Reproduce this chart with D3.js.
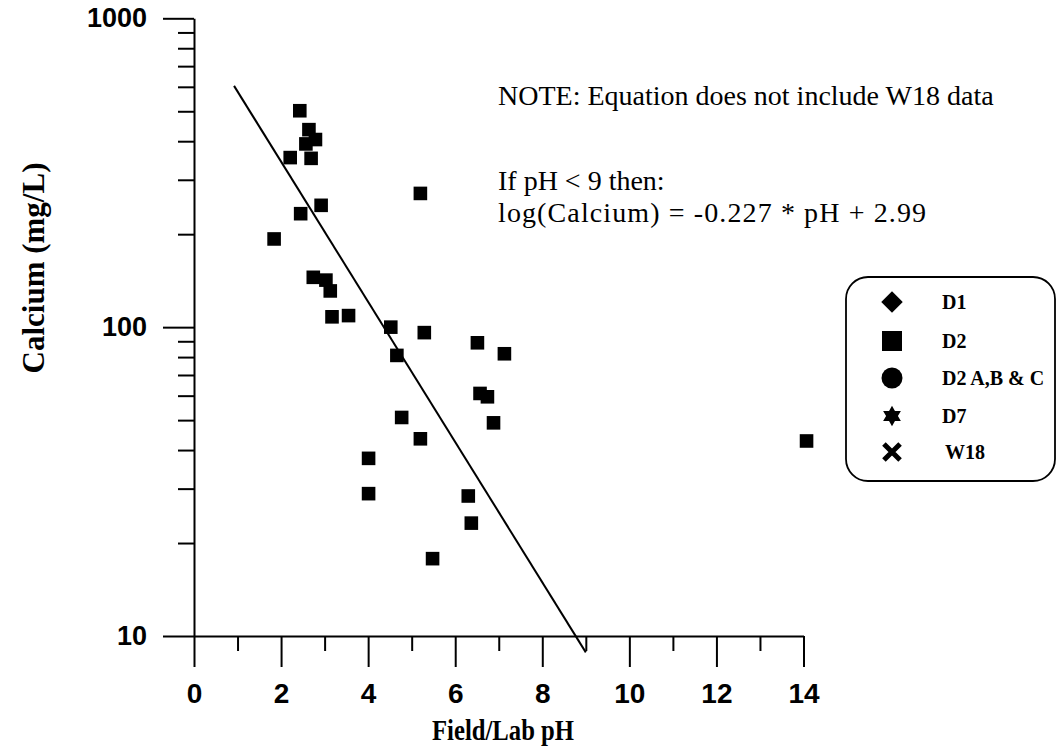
<!DOCTYPE html>
<html>
<head>
<meta charset="utf-8">
<script src="https://cdn.jsdelivr.net/npm/d3@7"></script>
<style>
  body { margin: 0; background: #fff; }
  svg { display: block; }
</style>
</head>
<body>
<svg id="chart" width="1059" height="753"></svg>
<script>
// Field/lab pH against calcium concentration (mg/L)
const phValues = [2.43, 2.64, 2.79, 2.57, 2.21, 2.69, 2.92, 2.45, 1.84, 2.74,
                  3.03, 3.13, 3.17, 3.55, 5.20, 4.52, 5.29, 6.51, 7.13, 4.66,
                  6.57, 6.74, 6.88, 4.77, 5.20, 4.01, 4.01, 6.30, 6.37, 5.48, 14.07];
const calciumValues = [502, 436, 405, 392, 354, 352, 248, 233, 193, 145,
                       142, 131, 108, 109, 271, 100, 96, 89, 82, 81,
                       61, 59.5, 49, 51, 43.5, 37.6, 28.9, 28.4, 23.2, 17.8, 42.8];

const xMajorTicks = [0, 2, 4, 6, 8, 10, 12, 14];
const xMinorTicks = [1, 3, 5, 7, 9, 11, 13];
const yMajorTicks = [10, 100, 1000];
const yMinorTicks = [20, 30, 40, 50, 60, 70, 80, 90, 200, 300, 400, 500, 600, 700, 800, 900];

const legendLabels = ["D1", "D2", "D2 A,B & C", "D7", "W18"];
const noteLines = ["NOTE: Equation does not include W18 data",
                   "If pH < 9 then:",
                   "log(Calcium) = -0.227 * pH + 2.99"];

// regression: log10(Ca) = slope * pH + intercept, valid for pH < 9
const fitSlope = -0.227;
const fitIntercept = 2.99;
const fitRange = [0.92, 9];

const svg = d3.select("#chart");
const sansBold = "'Liberation Sans', Arial, sans-serif";
const serif = "'Liberation Serif', 'Times New Roman', serif";

const x = d3.scaleLinear().domain([0, 14]).range([194, 803.5]);
const y = d3.scaleLog().domain([10, 1000]).range([636, 18.3]);

function styleAxis(g, fontSize) {
  g.selectAll("path.domain").attr("stroke", "#000").attr("stroke-width", 2);
  g.selectAll(".tick line").attr("stroke", "#000").attr("stroke-width", 2);
  g.selectAll(".tick text")
    .attr("fill", "#000")
    .style("font-family", sansBold)
    .style("font-weight", "bold")
    .style("font-size", fontSize + "px");
}

// y axis (log)
const yAxisG = svg.append("g").attr("transform", `translate(${x(0)},0)`)
  .call(d3.axisLeft(y).tickValues(yMajorTicks).tickSize(31).tickSizeOuter(0)
    .tickPadding(16).tickFormat(d3.format("d")));
styleAxis(yAxisG, 27);

const yMinorG = svg.append("g").attr("transform", `translate(${x(0)},0)`)
  .call(d3.axisLeft(y).tickValues(yMinorTicks).tickSize(16).tickFormat(""));
yMinorG.select("path.domain").remove();
styleAxis(yMinorG, 10);

// x axis
const xAxisG = svg.append("g").attr("transform", `translate(0,${y(10)})`)
  .call(d3.axisBottom(x).tickValues(xMajorTicks).tickSize(31).tickSizeOuter(0)
    .tickPadding(16).tickFormat(d3.format("d")));
styleAxis(xAxisG, 28);

const xMinorG = svg.append("g").attr("transform", `translate(0,${y(10)})`)
  .call(d3.axisBottom(x).tickValues(xMinorTicks).tickSize(15).tickFormat(""));
xMinorG.select("path.domain").remove();
styleAxis(xMinorG, 10);

// axis titles
svg.append("text")
  .attr("x", 503).attr("y", 740)
  .attr("text-anchor", "middle")
  .attr("textLength", 142).attr("lengthAdjust", "spacingAndGlyphs")
  .style("font-family", serif).style("font-weight", "bold").style("font-size", "29px")
  .text("Field/Lab pH");

svg.append("text")
  .attr("transform", "translate(44,268) rotate(-90)")
  .attr("text-anchor", "middle")
  .style("font-family", serif).style("font-weight", "bold").style("font-size", "31px")
  .text("Calcium (mg/L)");

// regression line
const fitLine = d3.line()
  .x(d => x(d))
  .y(d => y(Math.pow(10, fitSlope * d + fitIntercept)));
svg.append("path")
  .datum(fitRange)
  .attr("d", fitLine)
  .attr("fill", "none")
  .attr("stroke", "#000")
  .attr("stroke-width", 2);

// data points
const square = d3.symbol().type(d3.symbolSquare).size(185);
svg.append("g").selectAll("path")
  .data(phValues.map((p, i) => [p, calciumValues[i]]))
  .join("path")
  .attr("transform", d => `translate(${x(d[0])},${y(d[1])})`)
  .attr("d", square)
  .attr("fill", "#000");

// annotation text; the equation line is spread a little wider
const noteBaselines = [105, 190, 222];
const noteWidths = [null, null, 428];
svg.append("g").selectAll("text")
  .data(noteLines)
  .join("text")
  .attr("x", 498)
  .attr("y", (d, i) => noteBaselines[i])
  .attr("textLength", (d, i) => noteWidths[i])
  .attr("lengthAdjust", "spacing")
  .style("font-family", serif).style("font-size", "28px")
  .attr("fill", "#000")
  .text(d => d);

// legend
const hexagram = {
  draw(ctx, size) {
    const R = Math.sqrt(size) / 2, r = R / Math.sqrt(3);
    for (let k = 0; k < 12; k++) {
      const a = -Math.PI / 2 + k * Math.PI / 6;
      const rad = k % 2 === 0 ? R : r;
      const px = rad * Math.cos(a), py = rad * Math.sin(a);
      if (k === 0) ctx.moveTo(px, py); else ctx.lineTo(px, py);
    }
    ctx.closePath();
  }
};
const cross = {
  draw(ctx, size) {
    const h = Math.sqrt(size) / 2;
    ctx.moveTo(-h, -h); ctx.lineTo(h, h);
    ctx.moveTo(h, -h); ctx.lineTo(-h, h);
  }
};

const legendG = svg.append("g");
legendG.append("rect")
  .attr("x", 846).attr("y", 277).attr("width", 209).attr("height", 204)
  .attr("rx", 22).attr("ry", 22)
  .attr("fill", "none").attr("stroke", "#000").attr("stroke-width", 1.8);

const legendRows = [302, 341, 378, 416, 452];
const legendSymbols = [
  { type: d3.symbolSquare, size: 230, rotate: 45, fill: true },
  { type: d3.symbolSquare, size: 400, rotate: 0, fill: true },
  { type: d3.symbolCircle, size: 346, rotate: 0, fill: true },
  { type: hexagram, size: 420, rotate: 0, fill: true },
  { type: cross, size: 260, rotate: 0, fill: false }
];
legendLabels.forEach((label, i) => {
  const s = legendSymbols[i];
  legendG.append("path")
    .attr("transform", `translate(892,${legendRows[i]}) rotate(${s.rotate})`)
    .attr("d", d3.symbol().type(s.type).size(s.size)())
    .attr("fill", s.fill ? "#000" : "none")
    .attr("stroke", s.fill ? "none" : "#000")
    .attr("stroke-width", s.fill ? 0 : 5);
  legendG.append("text")
    .attr("x", i === 4 ? 945 : 942)
    .attr("y", legendRows[i] + 7)
    .style("font-family", serif).style("font-weight", "bold").style("font-size", "20px")
    .attr("fill", "#000")
    .text(label);
});
</script>
</body>
</html>
